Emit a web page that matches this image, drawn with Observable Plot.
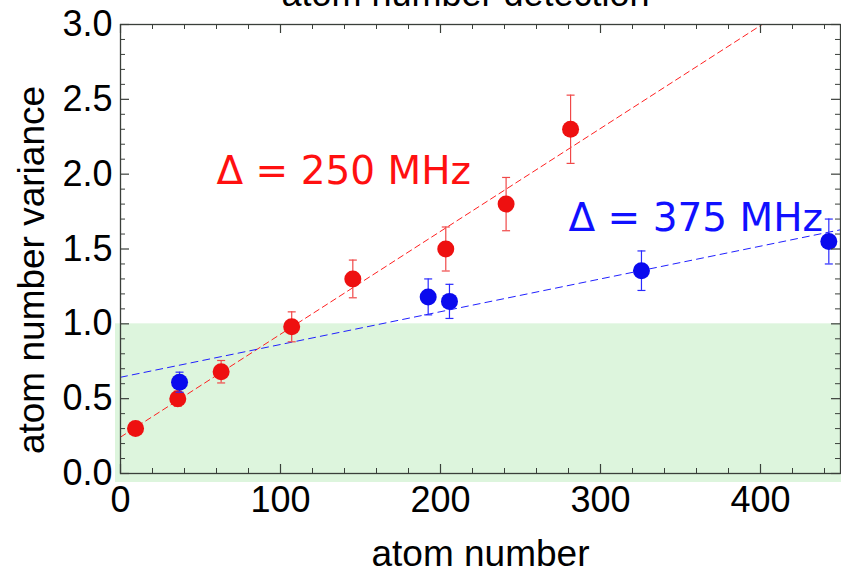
<!DOCTYPE html>
<html>
<head>
<meta charset="utf-8">
<script src="https://cdn.jsdelivr.net/npm/d3@7"></script>
<script src="https://cdn.jsdelivr.net/npm/@observablehq/plot@0.6"></script>
<style>
  html, body { margin: 0; padding: 0; background: #fff; }
  #chart svg { display: block; }
</style>
</head>
<body>
<div id="chart"></div>
<script>
// ---- data ----
const redX   = [9.4, 35.8, 62.9, 107, 145.2, 203.3, 241, 281.3];
const redY   = [0.30, 0.50, 0.68, 0.98, 1.30, 1.50, 1.80, 2.30];
const redErr = [0.03, 0.05, 0.075, 0.10, 0.126, 0.147, 0.178, 0.228];

const blueX   = [36.9, 192.3, 205.6, 325.6, 442.7];
const blueY   = [0.61, 1.18, 1.15, 1.355, 1.55];
const blueErr = [0.067, 0.12, 0.114, 0.132, 0.15];

// linear fits: [intercept, slope]
const redFit  = [0.243, 0.006875];
const blueFit = [0.643, 0.00219];

const xTicks = [0, 100, 200, 300, 400];
const yTicks = [0.0, 0.5, 1.0, 1.5, 2.0, 2.5, 3.0];
const xDomain = [0, 450];
const yDomain = [0, 3];
const shadeRange = [0, 1];

const title = "atom number detection";
const xLabel = "atom number";
const yLabel = "atom number variance";
const annotations = [
  {text: "Δ = 250 MHz", x: 60, y: 1.935, color: "#ff1010"},
  {text: "Δ = 375 MHz", x: 280, y: 1.623, color: "#1010ff"}
];

// ---- build tables ----
const red = redX.map((x, i) => ({x, y: redY[i], e: redErr[i]}));
const blue = blueX.map((x, i) => ({x, y: blueY[i], e: blueErr[i]}));
const fitLine = ([a, b]) => xDomain.map(x => ({x, y: a + b * x}));

const W = 841, H = 574;
const mL = 120, mR = 1, mT = 24, mB = 101;
const fw = W - mL - mR, fh = H - mT - mB;

const xMinor = d3.range(0, 451, 20).filter(v => v % 100 !== 0);
const yMinor = d3.range(0, 31, 1).map(v => v / 10).filter((v, i) => i % 5 !== 0);

const capSymbol = {
  draw(ctx, size) {
    const r = Math.sqrt(size / Math.PI);
    ctx.moveTo(-r, 0);
    ctx.lineTo(r, 0);
  }
};

const axisFont = "'Liberation Sans', Arial, sans-serif";
const frameColor = "#3a3f3a";

const errMarks = (data, color, dotColor) => [
  Plot.ruleX(data, {x: "x", y1: d => d.y - d.e, y2: d => d.y + d.e, stroke: color, strokeWidth: 1.2}),
  Plot.dot(data, {x: "x", y: d => d.y + d.e, symbol: capSymbol, r: 4, stroke: color, strokeWidth: 1.2, fill: "none"}),
  Plot.dot(data, {x: "x", y: d => d.y - d.e, symbol: capSymbol, r: 4, stroke: color, strokeWidth: 1.2, fill: "none"}),
  Plot.dot(data, {x: "x", y: "y", r: 8.5, fill: dotColor, stroke: "none"})
];

const plot = Plot.plot({
  width: W,
  height: H,
  marginLeft: mL,
  marginRight: mR,
  marginTop: mT,
  marginBottom: mB,
  style: {fontFamily: axisFont, background: "#fff", overflow: "visible"},
  x: {domain: xDomain, ticks: xTicks},
  y: {domain: yDomain, ticks: yTicks},
  marks: [
    // shaded region
    Plot.rect([shadeRange], {x1: xDomain[0], x2: xDomain[1], y1: d => d[0], y2: d => d[1],
      fill: "#ddf5dd", insetLeft: -5, insetBottom: -9, insetRight: -2}),
    // fit lines
    Plot.line(fitLine(redFit), {x: "x", y: "y", stroke: "#ff2020", strokeWidth: 1, strokeDasharray: "6,4", clip: true}),
    Plot.line(fitLine(blueFit), {x: "x", y: "y", stroke: "#2020ff", strokeWidth: 1, strokeDasharray: "7,5", clip: true}),
    // data with error bars
    ...errMarks(red, "#f04848", "#ee1010"),
    ...errMarks(blue, "#2a2aff", "#0a0aee"),
    // frame
    Plot.frame({stroke: frameColor, strokeWidth: 1.3}),
    // inward ticks: x
    Plot.ruleX(xTicks, {stroke: frameColor, strokeWidth: 1.2, insetTop: fh - 9}),
    Plot.ruleX(xTicks, {stroke: frameColor, strokeWidth: 1.2, insetBottom: fh - 9}),
    Plot.ruleX(xMinor, {stroke: frameColor, strokeWidth: 1, insetTop: fh - 5}),
    Plot.ruleX(xMinor, {stroke: frameColor, strokeWidth: 1, insetBottom: fh - 5}),
    // inward ticks: y
    Plot.ruleY(yTicks, {stroke: frameColor, strokeWidth: 1.2, insetRight: fw - 9}),
    Plot.ruleY(yTicks, {stroke: frameColor, strokeWidth: 1.2, insetLeft: fw - 9}),
    Plot.ruleY(yMinor, {stroke: frameColor, strokeWidth: 1, insetRight: fw - 5}),
    Plot.ruleY(yMinor, {stroke: frameColor, strokeWidth: 1, insetLeft: fw - 5}),
    // tick labels
    Plot.axisX(xTicks, {anchor: "bottom", tickSize: 0, tickPadding: 13, fontSize: 36, label: null, fill: "#000", tickFormat: d3.format("d")}),
    Plot.axisY(yTicks, {anchor: "left", tickSize: 0, tickPadding: 8, fontSize: 36, label: null, fill: "#000", tickFormat: d3.format(".1f")}),
    // axis labels & title
    Plot.text([xLabel], {frameAnchor: "bottom", dy: 92, lineAnchor: "bottom", fontSize: 37, fill: "#000", text: d => d}),
    Plot.text([yLabel], {frameAnchor: "left", textAnchor: "middle", dx: -77, dy: 21, rotate: -90, lineAnchor: "bottom", fontSize: 37, fill: "#000", text: d => d}),
    Plot.text([title], {frameAnchor: "top", dx: -15, dy: -19, lineAnchor: "bottom", fontSize: 36, fill: "#000", text: d => d}),
    // annotations
    Plot.text(annotations, {x: "x", y: "y", text: "text", fill: "color", textAnchor: "start", lineAnchor: "bottom",
      fontSize: 39, fontFamily: "'DejaVu Sans', sans-serif"})
  ]
});

document.getElementById("chart").appendChild(plot);
</script>
</body>
</html>
